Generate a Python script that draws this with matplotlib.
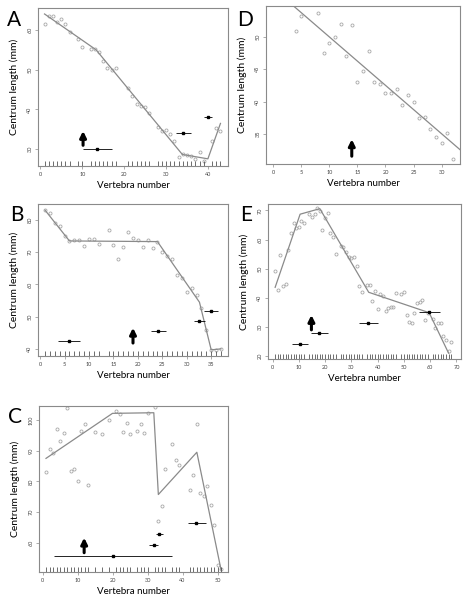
import numpy as np
import matplotlib
matplotlib.use("Agg")
import matplotlib.pyplot as plt

plt.rcParams['font.family'] = ['Lato', 'DejaVu Sans']

# panel A
a_x = [1, 2, 3, 4, 5, 6, 7, 9, 10, 12, 13, 14, 15, 16, 17, 18, 21, 22, 23, 24, 25, 26,
       28, 29, 30, 31, 32, 33, 34, 35, 36, 37, 38, 39, 41, 42, 43]
a_y = [61.6, 63.4, 63.6, 61.9, 62.8, 61.4, 59.4, 57.6, 55.7, 55.1, 55.1, 54.4, 52.1, 50.3,
       50.0, 50.4, 45.5, 43.4, 41.4, 40.8, 40.5, 39.2, 35.5, 34.5, 34.8, 33.8, 32.1, 28.0,
       28.7, 28.5, 28.2, 27.6, 29.2, 27.0, 32.1, 35.4, 34.7]
a_fit_x = [1, 13.3, 33.9, 40, 43]
a_fit_y = [64.0, 55.0, 28.7, 27.6, 36.5]
a_bp = [13.6, 34.1, 40.0]
a_bp_lo = [10.2, 32.3, 39.0]
a_bp_hi = [17.0, 35.9, 40.9]
a_bp_y = [30.0, 34.0, 38.0]
a_arrow = 10.2

# panel D
d_x = [4, 5, 8, 9, 10, 11, 12, 13, 14, 15, 16, 17, 18, 19, 20, 21, 22, 23, 24, 25, 26, 27,
       28, 29, 30, 31, 32]
d_y = [50.8, 53.1, 53.6, 47.5, 49.0, 50.0, 52.0, 47.0, 51.8, 43.0, 44.7, 47.8, 43.0, 42.7,
       41.3, 41.3, 42.0, 39.4, 41.0, 40.0, 37.4, 37.6, 35.8, 34.5, 33.6, 35.1, 31.2]
d_intercept = 57.4
d_slope = -0.745
d_arrow = 14

# panel B
b_x = [1, 2, 3, 4, 5, 6, 7, 8, 9, 10, 11, 12, 14, 15, 16, 17, 18, 19, 20, 21, 22, 23, 24,
       25, 26, 27, 28, 29, 30, 31, 32, 33, 34, 35, 36, 37]
b_y = [82.9, 81.9, 78.9, 77.9, 74.8, 73.4, 73.6, 73.6, 71.9, 73.9, 74.1, 72.4, 76.7, 72.1,
       67.9, 71.5, 76.3, 74.2, 73.8, 71.6, 73.6, 71.2, 73.2, 69.9, 68.7, 67.8, 63.0, 61.9,
       57.7, 59.0, 56.7, 52.7, 46.0, 39.8, 39.6, 40.1]
b_fit_x = [1, 6, 24, 32.6, 35, 37]
b_fit_y = [82.9, 73.4, 73.2, 54.5, 39.8, 40.1]
b_bp = [5.9, 24.2, 32.6, 35.0]
b_bp_lo = [3.7, 22.7, 31.4, 33.6]
b_bp_hi = [8.2, 25.7, 33.8, 36.4]
b_bp_y = [42.6, 45.7, 48.8, 51.9]
b_arrow = 19

# panel E
e_x = [1, 2, 3, 4, 5, 6, 7, 8, 9, 10, 11, 12, 14, 15, 16, 17, 18, 19, 20, 21, 22, 23, 24,
       26, 27, 28, 29, 30, 31, 32, 33, 34, 36, 37, 38, 39, 40, 41, 42, 43, 44, 45, 46, 47,
       49, 50, 51, 52, 53, 54, 55, 56, 57, 58, 59, 61, 62, 63, 64, 65, 66, 67, 68]
e_y = [49.2, 42.8, 54.8, 43.9, 44.7, 56.5, 62.3, 65.8, 64.1, 64.3, 66.3, 65.8, 68.7, 67.8,
       68.9, 70.8, 69.9, 63.2, 67.4, 69.1, 62.2, 60.8, 55.2, 57.9, 57.4, 55.6, 53.9, 53.6,
       53.9, 51.0, 44.1, 42.0, 44.4, 44.4, 39.0, 42.4, 36.1, 41.3, 40.5, 35.6, 36.5, 37.0,
       36.7, 41.5, 41.3, 41.9, 34.2, 31.8, 31.4, 34.8, 38.2, 38.5, 39.1, 32.5, 34.9, 32.8,
       29.6, 31.3, 31.2, 26.8, 25.4, 21.6, 25.0]
e_fit_x = [1, 10.5, 18, 36.6, 59.6, 67]
e_fit_y = [43.6, 68.7, 70.6, 41.9, 34.9, 21.0]
e_bp = [10.6, 17.8, 36.5, 59.7]
e_bp_lo = [7.6, 14.6, 32.8, 55.7]
e_bp_hi = [13.5, 21.0, 40.3, 63.9]
e_bp_y = [24.2, 27.9, 31.4, 35.0]
e_arrow = 14.8

# panel C
c_x = [1, 2, 3, 4, 5, 6, 7, 8, 9, 10, 11, 12, 13, 15, 17, 19, 21, 22, 23, 24, 25, 27, 28,
       29, 30, 32, 33, 34, 35, 37, 38, 39, 42, 43, 44, 45, 46, 47, 48, 49, 50, 51]
c_y = [83.1, 90.4, 89.1, 97.2, 93.1, 95.7, 104.1, 83.4, 84.0, 80.2, 96.6, 98.6, 78.9, 96.0,
       95.5, 99.9, 103.1, 102.0, 96.1, 99.0, 95.5, 96.6, 98.6, 95.9, 102.2, 104.4, 66.9,
       72.1, 83.9, 92.3, 87.0, 85.3, 77.3, 82.2, 98.7, 76.1, 75.1, 78.5, 72.4, 65.9, 52.7,
       51.4]
c_fit_x = [1, 20, 31.8, 33.1, 44.1, 51]
c_fit_y = [87.5, 102.2, 102.4, 75.7, 89.5, 51.2]
c_bp = [20.0, 31.8, 33.2, 43.9]
c_bp_lo = [3.3, 30.5, 32.3, 41.5]
c_bp_hi = [36.9, 33.0, 34.4, 46.6]
c_bp_y = [55.6, 59.1, 62.7, 66.4]
c_arrow = 11.9

W, H = 466, 600
fig = plt.figure(figsize=(W / 100, H / 100), dpi=100)

GREY = '#8a8a8a'


def make_ax(l, r, t, b):
    return fig.add_axes([l / W, 1 - b / H, (r - l) / W, (b - t) / H])


def style(ax, xlim, ylim, xt, yt, ylab_pad=6):
    ax.set_xlim(*xlim)
    ax.set_ylim(*ylim)
    ax.set_xticks(xt)
    ax.set_yticks(yt)
    ax.set_yticklabels([str(v) for v in yt], rotation=90, va='center')
    for s in ax.spines.values():
        s.set_color(GREY)
        s.set_linewidth(0.8)
    ax.tick_params(length=2, width=0.5, color=GREY, labelsize=4, pad=2,
                   labelcolor='#444444')
    ax.set_xlabel('Vertebra number', fontsize=7, labelpad=3)
    ax.set_ylabel('Centrum length (mm)', fontsize=7.5, labelpad=ylab_pad)


def panel(ax, x, y, fx=None, fy=None, bp=None, lo=None, hi=None, by=None, arrow=None,
          rug=True):
    ax.plot(x, y, 'o', mfc='none', mec='#a8a8a8', ms=2.2, mew=0.6)
    if fx is not None:
        ax.plot(fx, fy, '-', color=GREY, lw=0.9)
    if bp is not None:
        ax.hlines(by, lo, hi, color='black', lw=0.6)
        ax.plot(bp, by, 's', color='black', ms=1.6)
    if rug:
        ax.vlines(x, 0, 0.03, transform=ax.get_xaxis_transform(), color='#333333', lw=0.5)
    if arrow is not None:
        base, tip = arrow
        ax.annotate('', xy=(base[0], tip), xytext=(base[0], base[1]),
                    arrowprops=dict(arrowstyle='-|>', color='black', lw=2.2,
                                    mutation_scale=9, shrinkA=0, shrinkB=0))


# A
axA = make_ax(38, 228, 8, 166)
style(axA, (-0.56, 44.8), (25.8, 65.5), [0, 10, 20, 30, 40], [30, 40, 50, 60])
panel(axA, a_x, a_y, a_fit_x, a_fit_y, a_bp, a_bp_lo, a_bp_hi, a_bp_y,
      ((a_arrow, 31.0), 34.6))

# D
axD = make_ax(266, 460, 6, 164)
style(axD, (-1.28, 33.28), (30.4, 54.7), [0, 5, 10, 15, 20, 25, 30], [35, 40, 45, 50])
panel(axD, d_x, d_y, rug=False, arrow=((d_arrow, 31.6), 34.2))
axD.axline((0, d_intercept), slope=d_slope, color=GREY, lw=0.9)

# B
axB = make_ax(38, 228, 204, 356)
style(axB, (-0.44, 38.44), (37.9, 84.8), [0, 5, 10, 15, 20, 25, 30, 35],
      [40, 50, 60, 70, 80])
panel(axB, b_x, b_y, b_fit_x, b_fit_y, b_bp, b_bp_lo, b_bp_hi, b_bp_y,
      ((b_arrow, 41.9), 46.6))

# E
axE = make_ax(268, 461, 204, 359)
style(axE, (-1.72, 71.72), (19.0, 72.2), [0, 10, 20, 30, 40, 50, 60, 70],
      [20, 30, 40, 50, 60, 70])
panel(axE, e_x, e_y, e_fit_x, e_fit_y, e_bp, e_bp_lo, e_bp_hi, e_bp_y,
      ((e_arrow, 29.0), 34.1))

# C
axC = make_ax(39, 228, 406, 572)
style(axC, (-1.0, 53.0), (50.4, 104.6), [0, 10, 20, 30, 40, 50], [60, 70, 80, 90, 100])
panel(axC, c_x, c_y, c_fit_x, c_fit_y, c_bp, c_bp_lo, c_bp_hi, c_bp_y,
      ((c_arrow, 56.7), 61.6))

for lab, px, py in [('A', 14, 20), ('D', 245, 20), ('B', 17, 215), ('E', 246, 215),
                    ('C', 15, 417)]:
    fig.text(px / W, 1 - py / H, lab, fontsize=15, ha='center', va='center')

fig.savefig('out.png', dpi=100)
